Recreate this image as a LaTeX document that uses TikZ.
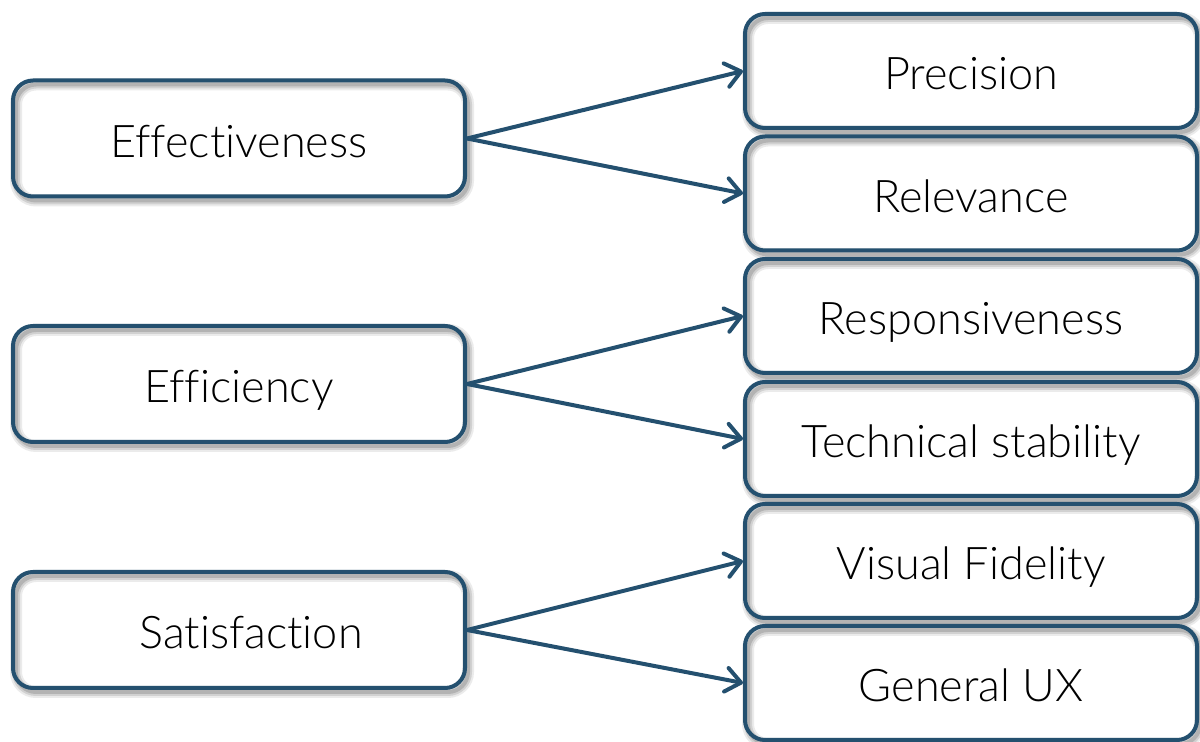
\documentclass[tikz,border=0pt]{standalone}
\usepackage{fontspec}
\setmainfont{Lato Light}[Ligatures={NoCommon,NoRequired,NoContextual}]
\usetikzlibrary{arrows.meta}
\definecolor{edge}{HTML}{24506F}
\tikzset{
  x=0.5pt, y=-0.5pt,
  boxbase/.style={
    draw=edge, line width=2pt, rounded corners=10pt,
    font=\fontsize{22.5}{25}\selectfont, text=black,
    text height=20pt, text depth=1pt,
    preaction={fill=white},
    preaction={draw=black, opacity=0.08, line width=6pt,
      transform canvas={xshift=1.5pt, yshift=-2pt}},
    preaction={draw=black, opacity=0.11, line width=4pt,
      transform canvas={xshift=1.5pt, yshift=-2pt}},
    preaction={draw=black, opacity=0.14, line width=2pt,
      transform canvas={xshift=1.5pt, yshift=-2pt}},
  },
  leftbox/.style={boxbase, minimum width=226pt, minimum height=58pt},
  rightbox/.style={boxbase, minimum width=226pt, minimum height=57pt},
  link/.style={draw=edge, line width=2pt, line cap=round,
    -{Straight Barb[length=7.5pt, width=12pt, line width=2pt, round]}},
}
\begin{document}
\begin{tikzpicture}
\useasboundingbox (0,0) rectangle (1200,742);

% main criteria
\node[leftbox] (eff)  at (239,138.5) {Effectiveness};
\node[leftbox] (effi) at (239,384)   {Efficiency};
\node[leftbox] (sat)  at (239,630)   {\hspace*{12pt}Satisfaction};

% sub-criteria
\node[rightbox] (prec) at (971,71)    {Precision};
\node[rightbox] (rel)  at (971,193.5) {Relevance};
\node[rightbox] (resp) at (971,316)   {Responsiveness};
\node[rightbox] (tech) at (971,439)   {Technical stability};
\node[rightbox] (vis)  at (971,561)   {Visual Fidelity};
\node[rightbox] (gen)  at (971,683)   {General UX};

% connectors
\draw[link] (eff.east)  -- (prec.west);
\draw[link] (eff.east)  -- (rel.west);
\draw[link] (effi.east) -- (resp.west);
\draw[link] (effi.east) -- (tech.west);
\draw[link] (sat.east)  -- (vis.west);
\draw[link] (sat.east)  -- (gen.west);
\end{tikzpicture}
\end{document}
